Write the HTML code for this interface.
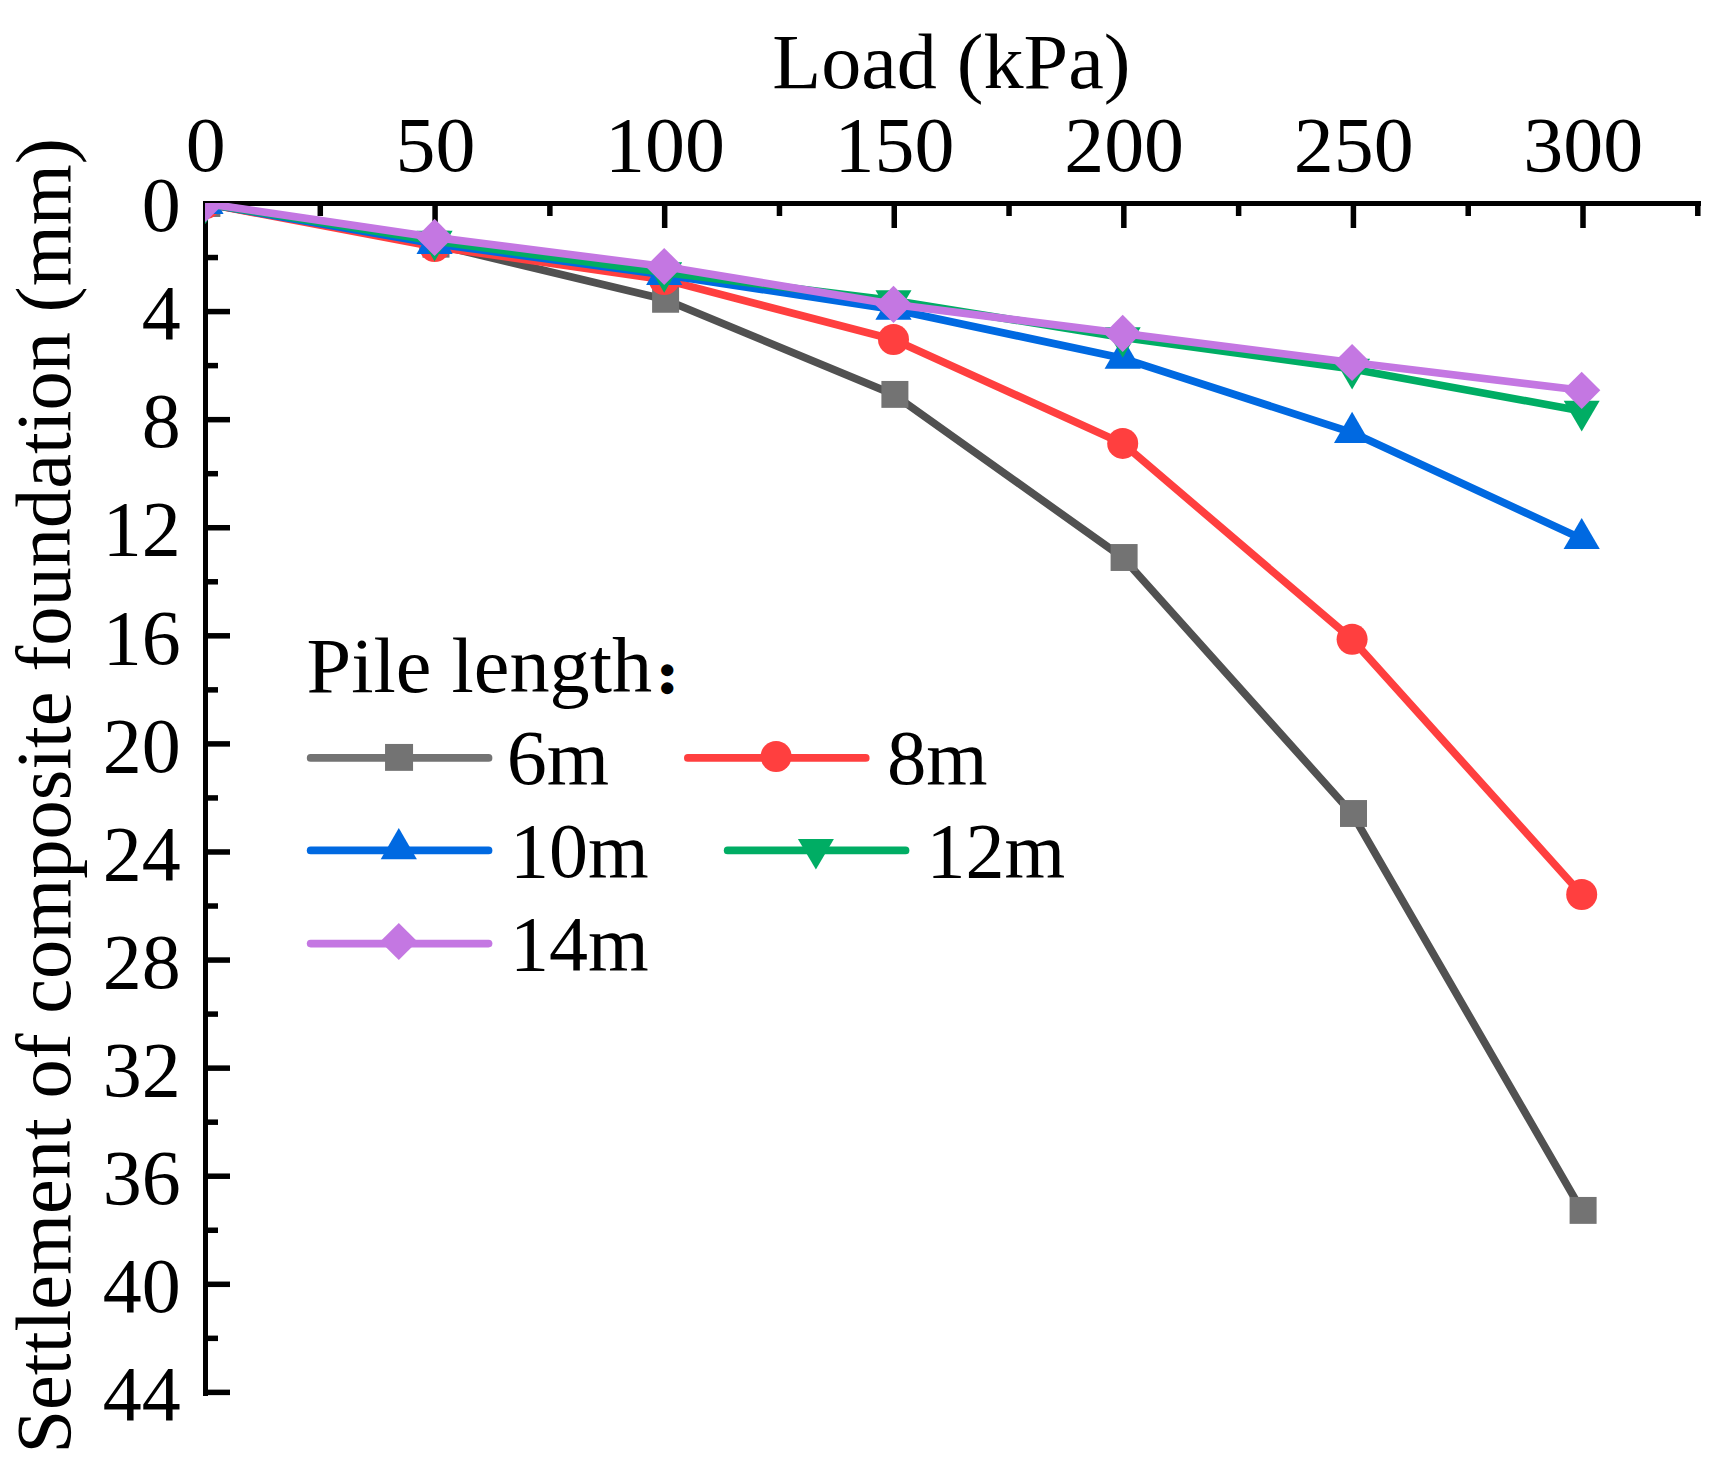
<!DOCTYPE html>
<html><head><meta charset="utf-8"><title>Load - settlement curves</title>
<style>
html,body{margin:0;padding:0;background:#fff;}
body{width:1733px;height:1467px;overflow:hidden;}
svg{display:block;}
text{font-family:"Liberation Serif", "Noto Serif CJK SC", serif;font-size:78px;fill:#000;}
</style></head><body>
<svg width="1733" height="1467" viewBox="0 0 1733 1467">
<rect width="1733" height="1467" fill="#fff"/>
<defs><clipPath id="plot"><rect x="205" y="203" width="1600" height="1300"/></clipPath></defs>

<g fill="#000" shape-rendering="crispEdges">
<rect x="203" y="201" width="1498" height="5"/>
<rect x="203" y="201" width="5" height="1195"/>
<rect x="317.54" y="201" width="5.5" height="15" shape-rendering="auto"/>
<rect x="432.33" y="201" width="5.5" height="27" shape-rendering="auto"/>
<rect x="547.12" y="201" width="5.5" height="15" shape-rendering="auto"/>
<rect x="661.92" y="201" width="5.5" height="27" shape-rendering="auto"/>
<rect x="776.71" y="201" width="5.5" height="15" shape-rendering="auto"/>
<rect x="891.50" y="201" width="5.5" height="27" shape-rendering="auto"/>
<rect x="1006.29" y="201" width="5.5" height="15" shape-rendering="auto"/>
<rect x="1121.08" y="201" width="5.5" height="27" shape-rendering="auto"/>
<rect x="1235.87" y="201" width="5.5" height="15" shape-rendering="auto"/>
<rect x="1350.66" y="201" width="5.5" height="27" shape-rendering="auto"/>
<rect x="1465.46" y="201" width="5.5" height="15" shape-rendering="auto"/>
<rect x="1580.25" y="201" width="5.5" height="27" shape-rendering="auto"/>
<rect x="1695.04" y="201" width="5.5" height="15" shape-rendering="auto"/>
<rect x="203" y="254.79" width="15" height="5.5" shape-rendering="auto"/>
<rect x="203" y="308.83" width="27" height="5.5" shape-rendering="auto"/>
<rect x="203" y="362.87" width="15" height="5.5" shape-rendering="auto"/>
<rect x="203" y="416.91" width="27" height="5.5" shape-rendering="auto"/>
<rect x="203" y="470.95" width="15" height="5.5" shape-rendering="auto"/>
<rect x="203" y="524.99" width="27" height="5.5" shape-rendering="auto"/>
<rect x="203" y="579.03" width="15" height="5.5" shape-rendering="auto"/>
<rect x="203" y="633.07" width="27" height="5.5" shape-rendering="auto"/>
<rect x="203" y="687.11" width="15" height="5.5" shape-rendering="auto"/>
<rect x="203" y="741.15" width="27" height="5.5" shape-rendering="auto"/>
<rect x="203" y="795.19" width="15" height="5.5" shape-rendering="auto"/>
<rect x="203" y="849.23" width="27" height="5.5" shape-rendering="auto"/>
<rect x="203" y="903.27" width="15" height="5.5" shape-rendering="auto"/>
<rect x="203" y="957.31" width="27" height="5.5" shape-rendering="auto"/>
<rect x="203" y="1011.35" width="15" height="5.5" shape-rendering="auto"/>
<rect x="203" y="1065.39" width="27" height="5.5" shape-rendering="auto"/>
<rect x="203" y="1119.43" width="15" height="5.5" shape-rendering="auto"/>
<rect x="203" y="1173.47" width="27" height="5.5" shape-rendering="auto"/>
<rect x="203" y="1227.51" width="15" height="5.5" shape-rendering="auto"/>
<rect x="203" y="1281.55" width="27" height="5.5" shape-rendering="auto"/>
<rect x="203" y="1335.59" width="15" height="5.5" shape-rendering="auto"/>
<rect x="203" y="1389.63" width="27" height="5.5" shape-rendering="auto"/>
</g>
<g text-anchor="middle">
<text transform="translate(205.80,171.10) scale(1.025,1.015)" text-anchor="middle">0</text>
<text transform="translate(435.38,171.10) scale(1.025,1.015)" text-anchor="middle">50</text>
<text transform="translate(664.97,171.10) scale(1.025,1.015)" text-anchor="middle">100</text>
<text transform="translate(894.55,171.10) scale(1.025,1.015)" text-anchor="middle">150</text>
<text transform="translate(1124.13,171.10) scale(1.025,1.015)" text-anchor="middle">200</text>
<text transform="translate(1353.71,171.10) scale(1.025,1.015)" text-anchor="middle">250</text>
<text transform="translate(1583.30,171.10) scale(1.025,1.015)" text-anchor="middle">300</text>
</g>
<g text-anchor="end">
<text transform="translate(180.80,231.20) scale(1.0,1.015)" text-anchor="end">0</text>
<text transform="translate(180.80,339.28) scale(1.0,1.015)" text-anchor="end">4</text>
<text transform="translate(180.80,447.36) scale(1.0,1.015)" text-anchor="end">8</text>
<text transform="translate(180.80,555.44) scale(1.0,1.015)" text-anchor="end">12</text>
<text transform="translate(180.80,663.52) scale(1.0,1.015)" text-anchor="end">16</text>
<text transform="translate(180.80,771.60) scale(1.0,1.015)" text-anchor="end">20</text>
<text transform="translate(180.80,879.68) scale(1.0,1.015)" text-anchor="end">24</text>
<text transform="translate(180.80,987.76) scale(1.0,1.015)" text-anchor="end">28</text>
<text transform="translate(180.80,1095.84) scale(1.0,1.015)" text-anchor="end">32</text>
<text transform="translate(180.80,1203.92) scale(1.0,1.015)" text-anchor="end">36</text>
<text transform="translate(180.80,1312.00) scale(1.0,1.015)" text-anchor="end">40</text>
<text transform="translate(180.80,1420.08) scale(1.0,1.015)" text-anchor="end">44</text>
</g>
<text transform="translate(951.30,88.00) scale(1.0274,1)" text-anchor="middle">Load (kPa)</text>
<text transform="translate(70.2,795.9) rotate(-90) scale(1.0054,1)" text-anchor="middle">Settlement of composite foundation (mm)</text>
<g clip-path="url(#plot)">
<polyline points="205.5,203.5 434.6,244.2 664.2,299.3 893.5,394.4 1122.7,557.5 1352.1,813.5 1581.7,1210.4" fill="none" stroke="#515151" stroke-width="7.7" stroke-linejoin="round" stroke-linecap="round"/>
<rect x="193.40" y="190.05" width="27.0" height="26.9" fill="#737373"/>
<rect x="422.50" y="230.75" width="27.0" height="26.9" fill="#737373"/>
<rect x="652.10" y="285.85" width="27.0" height="26.9" fill="#737373"/>
<rect x="881.40" y="380.95" width="27.0" height="26.9" fill="#737373"/>
<rect x="1110.60" y="544.05" width="27.0" height="26.9" fill="#737373"/>
<rect x="1340.00" y="800.05" width="27.0" height="26.9" fill="#737373"/>
<rect x="1569.60" y="1196.95" width="27.0" height="26.9" fill="#737373"/>
<polyline points="205.5,203.5 434.6,246.6 664.2,279.6 893.5,339.5 1122.7,443.4 1352.1,639.3 1581.7,894.5" fill="none" stroke="#FF3F3F" stroke-width="7.7" stroke-linejoin="round" stroke-linecap="round"/>
<circle cx="205.50" cy="203.50" r="15.5" fill="#FF3F3F"/>
<circle cx="434.60" cy="246.60" r="15.5" fill="#FF3F3F"/>
<circle cx="664.20" cy="279.60" r="15.5" fill="#FF3F3F"/>
<circle cx="893.50" cy="339.50" r="15.5" fill="#FF3F3F"/>
<circle cx="1122.70" cy="443.40" r="15.5" fill="#FF3F3F"/>
<circle cx="1352.10" cy="639.30" r="15.5" fill="#FF3F3F"/>
<circle cx="1581.70" cy="894.50" r="15.5" fill="#FF3F3F"/>
<polyline points="205.5,203.5 434.6,243.6 664.2,274.6 893.5,309.4 1122.7,358.3 1352.1,432.6 1581.7,538.7" fill="none" stroke="#0069E1" stroke-width="7.7" stroke-linejoin="round" stroke-linecap="round"/>
<polygon points="205.50,182.70 223.60,213.90 187.40,213.90" fill="#0069E1"/>
<polygon points="434.60,222.80 452.70,254.00 416.50,254.00" fill="#0069E1"/>
<polygon points="664.20,253.80 682.30,285.00 646.10,285.00" fill="#0069E1"/>
<polygon points="893.50,288.60 911.60,319.80 875.40,319.80" fill="#0069E1"/>
<polygon points="1122.70,337.50 1140.80,368.70 1104.60,368.70" fill="#0069E1"/>
<polygon points="1352.10,411.80 1370.20,443.00 1334.00,443.00" fill="#0069E1"/>
<polygon points="1581.70,517.90 1599.80,549.10 1563.60,549.10" fill="#0069E1"/>
<polyline points="205.5,203.5 434.6,241.0 664.2,272.4 893.5,300.5 1122.7,337.4 1352.1,369.0 1581.7,411.0" fill="none" stroke="#00AD64" stroke-width="7.7" stroke-linejoin="round" stroke-linecap="round"/>
<polygon points="205.50,223.90 223.50,193.30 187.50,193.30" fill="#00AD64"/>
<polygon points="434.60,261.40 452.60,230.80 416.60,230.80" fill="#00AD64"/>
<polygon points="664.20,292.80 682.20,262.20 646.20,262.20" fill="#00AD64"/>
<polygon points="893.50,320.90 911.50,290.30 875.50,290.30" fill="#00AD64"/>
<polygon points="1122.70,357.80 1140.70,327.20 1104.70,327.20" fill="#00AD64"/>
<polygon points="1352.10,389.40 1370.10,358.80 1334.10,358.80" fill="#00AD64"/>
<polygon points="1581.70,431.40 1599.70,400.80 1563.70,400.80" fill="#00AD64"/>
<polyline points="205.5,203.5 434.6,237.4 664.2,266.5 893.5,304.4 1122.7,333.4 1352.1,362.5 1581.7,390.3" fill="none" stroke="#C477E2" stroke-width="7.7" stroke-linejoin="round" stroke-linecap="round"/>
<polygon points="205.50,184.90 224.10,203.50 205.50,222.10 186.90,203.50" fill="#C477E2"/>
<polygon points="434.60,218.80 453.20,237.40 434.60,256.00 416.00,237.40" fill="#C477E2"/>
<polygon points="664.20,247.90 682.80,266.50 664.20,285.10 645.60,266.50" fill="#C477E2"/>
<polygon points="893.50,285.80 912.10,304.40 893.50,323.00 874.90,304.40" fill="#C477E2"/>
<polygon points="1122.70,314.80 1141.30,333.40 1122.70,352.00 1104.10,333.40" fill="#C477E2"/>
<polygon points="1352.10,343.90 1370.70,362.50 1352.10,381.10 1333.50,362.50" fill="#C477E2"/>
<polygon points="1581.70,371.70 1600.30,390.30 1581.70,408.90 1563.10,390.30" fill="#C477E2"/>
</g>
<text transform="translate(306.6,692.4) scale(1.029,1)">Pile length<tspan font-family="'Noto Sans CJK SC','Noto Serif CJK SC',sans-serif" font-size="36.9" stroke="#000" stroke-width="6.3" stroke-linejoin="round" dx="5.4" dy="-1.8">：</tspan></text>
<line x1="310.65000000000003" y1="757.9" x2="488.54999999999995" y2="757.9" stroke="#737373" stroke-width="7.7" stroke-linecap="round"/><rect x="385.05" y="743.95" width="28.0" height="26.9" fill="#737373"/><text transform="translate(506.70,783.60) scale(1.028,1)">6m</text>
<line x1="687.85" y1="757.9" x2="865.75" y2="757.9" stroke="#FF3F3F" stroke-width="7.7" stroke-linecap="round"/><circle cx="776.10" cy="756.50" r="15.5" fill="#FF3F3F"/><text transform="translate(886.90,783.60) scale(1.01,1)">8m</text>
<line x1="310.65000000000003" y1="850.4" x2="488.54999999999995" y2="850.4" stroke="#0069E1" stroke-width="7.7" stroke-linecap="round"/><polygon points="398.80,828.10 416.90,859.30 380.70,859.30" fill="#0069E1"/><text transform="translate(510.10,876.60) scale(1.0,1)">10m</text>
<line x1="727.65" y1="850.4" x2="905.55" y2="850.4" stroke="#00AD64" stroke-width="7.7" stroke-linecap="round"/><polygon points="815.90,869.60 833.90,839.00 797.90,839.00" fill="#00AD64"/><text transform="translate(926.50,876.60) scale(1.0,1)">12m</text>
<line x1="310.65000000000003" y1="943.6" x2="488.54999999999995" y2="943.6" stroke="#C477E2" stroke-width="7.7" stroke-linecap="round"/><polygon points="398.80,922.90 417.40,941.50 398.80,960.10 380.20,941.50" fill="#C477E2"/><text transform="translate(510.10,969.60) scale(1.0,1)">14m</text>
</svg></body></html>
